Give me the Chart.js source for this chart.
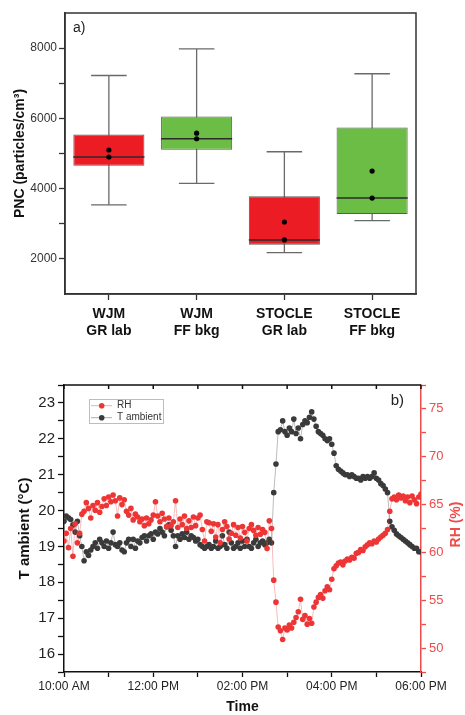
<!DOCTYPE html>
<html>
<head>
<meta charset="utf-8">
<script src="https://cdn.jsdelivr.net/npm/chart.js@4.4.1/dist/chart.umd.min.js"></script>
<style>
  html, body { margin: 0; padding: 0; background: #fff; }
  body { width: 465px; height: 715px; position: relative; overflow: hidden; }
  canvas { position: absolute; left: 0; }
  #boxChart { top: 0; }
  #timeChart { top: 345px; }
</style>
</head>
<body>
<canvas id="boxChart" width="465" height="345"></canvas>
<canvas id="timeChart" width="465" height="375"></canvas>
<script>
// --- panel a: PNC box plots ---
const groups = [["WJM", "GR lab"], ["WJM", "FF bkg"], ["STOCLE", "GR lab"], ["STOCLE", "FF bkg"]];
const pncMin = [3540, 4150, 2180, 3090];
const pncQ1 = [4650, 5110, 2400, 3280];
const pncMedian = [4900, 5420, 2540, 3730];
const pncQ3 = [5540, 6050, 3780, 5740];
const pncMax = [7220, 7980, 5050, 7270];
const pncMean = [5100, 5580, 3050, 4500];
const boxColors = ["#ec1c24", "#6cbd45", "#ec1c24", "#6cbd45"];
const pncTicks = [2000, 4000, 6000, 8000];

// --- panel b: T ambient and RH, one reading every 3 min from 10:00 AM ---
const timeLabels = ["10:00 AM", "12:00 PM", "02:00 PM", "04:00 PM", "06:00 PM"];
const stepMin = 3;
const tAmbient = [
  19.7, 19.85, 19.8, 19.75, 19.6, 19.4, 19.7, 19.3, 19.0, 18.6,
  18.85, 18.75, 18.9, 19.0, 19.1, 18.95, 19.2, 19.1, 19.0, 19.15,
  18.95, 19.1, 19.4, 19.05, 19.0, 19.1, 18.9, 18.85, 19.1, 19.2,
  19.0, 19.2, 18.95, 19.15, 19.1, 19.25, 19.3, 19.15, 19.3, 19.35,
  19.2, 19.4, 19.35, 19.5, 19.4, 19.3, 19.55, 19.6, 19.45, 19.3,
  19.0, 19.3, 19.2, 19.35, 19.25, 19.4, 19.2, 19.3, 19.25, 19.15,
  19.2, 19.05, 19.0, 18.95, 19.0, 19.05, 18.95, 19.0, 19.15, 18.95,
  19.0, 19.3, 19.05, 18.95, 19.4, 19.1, 18.95, 19.0, 19.1, 18.95,
  19.15, 19.0, 19.2, 19.0, 18.95, 19.1, 19.2, 19.0, 19.1, 19.15,
  19.05, 19.1, 19.2, 19.1, 20.5, 21.3, 22.2, 22.25, 22.5, 22.2,
  22.1, 22.3, 22.2, 22.55, 22.15, 22.3, 22.0, 22.4, 22.5, 22.45,
  22.6, 22.75, 22.55, 22.35, 22.2, 22.15, 22.1, 22.0, 21.95, 22.0,
  21.85, 21.6, 21.25, 21.15, 21.1, 21.05, 21.0, 21.0, 20.95, 21.0,
  20.95, 20.9, 20.9, 20.85, 20.95, 20.9, 20.95, 20.9, 20.95, 21.05,
  20.9, 20.85, 20.75, 20.7, 20.6, 20.5, 19.7, 19.55, 19.45, 19.35,
  19.3, 19.25, 19.2, 19.15, 19.1, 19.05, 19.0, 18.95, 18.95, 18.85, 18.85
];
const rh = [
  61.2, 62.0, 60.5, 62.5, 59.6, 63.0, 61.0, 62.0, 64.0, 64.3,
  65.2, 64.6, 63.6, 64.9, 64.4, 65.2, 64.2, 64.8, 65.6, 64.9,
  65.8, 65.3, 66.0, 65.4, 63.8, 65.7, 65.0, 65.5, 64.3, 63.9,
  64.6, 63.4, 64.0, 63.7, 63.2, 63.5, 62.8, 63.6, 63.0, 63.4,
  63.9, 65.3, 63.8, 63.2, 64.1, 63.5, 62.7, 63.6, 62.8, 63.2,
  65.4, 62.6, 63.5, 62.9, 63.8, 62.5, 63.3, 62.6, 63.7, 62.8,
  63.6, 63.9, 62.4, 61.2, 63.2, 63.1, 62.2, 63.0, 61.6, 62.9,
  61.0, 62.4, 63.2, 62.7, 61.4, 62.0, 62.9, 61.8, 62.6, 61.5,
  62.7, 62.1, 61.2, 62.5, 62.9, 62.3, 61.8, 62.6, 61.9, 62.4,
  62.1, 60.4, 63.3, 62.5, 57.1, 54.8, 52.2, 51.8, 50.9, 52.1,
  51.9, 52.4, 52.1, 52.7, 53.2, 53.8, 55.1, 53.0, 53.4, 52.5,
  53.1, 52.6, 54.3, 54.8, 55.3, 55.6, 55.2, 56.0, 56.4, 56.1,
  57.2, 58.3, 58.6, 58.9, 59.0, 58.7, 59.1, 59.3, 59.2, 59.5,
  59.4, 59.9, 60.0, 60.3, 60.2, 60.6, 60.8, 61.0, 60.9, 61.2,
  61.1, 61.4, 61.6, 61.8, 62.0, 62.4, 64.3, 65.6, 65.8, 65.5,
  66.0, 65.7, 65.9, 65.4, 65.8, 65.2, 65.9, 65.5, 65.1, 65.8, 66.1
];

const FONT = "'Liberation Sans', Arial, sans-serif";
Chart.defaults.font.family = FONT;
const RED = "#ee3535";
const AXIS_RED = "#f04a4a";

// whiskers, caps, median lines, frame and the "a)" tag
const boxParts = {
  id: "boxParts",
  beforeDatasetsDraw(chart) {
    const { ctx, scales: { x, y } } = chart;
    const bars = chart.getDatasetMeta(2).data;
    ctx.save();
    ctx.strokeStyle = "#6a6a6a";
    ctx.lineWidth = 1.3;
    pncMin.forEach((lo, i) => {
      const cx = x.getPixelForValue(i);
      const half = bars[i].width / 4;
      ctx.beginPath();
      ctx.moveTo(cx, y.getPixelForValue(lo));
      ctx.lineTo(cx, y.getPixelForValue(pncMax[i]));
      [lo, pncMax[i]].forEach(v => {
        const py = y.getPixelForValue(v);
        ctx.moveTo(cx - half, py);
        ctx.lineTo(cx + half, py);
      });
      ctx.stroke();
    });
    ctx.restore();
  },
  afterDatasetDraw(chart, args) {
    if (args.index !== 2) return;
    const { ctx, scales: { x, y } } = chart;
    const bars = chart.getDatasetMeta(2).data;
    ctx.save();
    ctx.strokeStyle = "#2b2b2b";
    ctx.lineWidth = 1.5;
    pncMedian.forEach((m, i) => {
      const cx = x.getPixelForValue(i);
      const half = bars[i].width / 2;
      const py = y.getPixelForValue(m);
      ctx.beginPath();
      ctx.moveTo(cx - half, py);
      ctx.lineTo(cx + half, py);
      ctx.stroke();
    });
    ctx.restore();
  },
  afterDraw(chart) {
    const { ctx, chartArea: a } = chart;
    ctx.save();
    ctx.strokeStyle = "#333";
    ctx.lineWidth = 1.5;
    ctx.strokeRect(a.left, a.top, a.right - a.left, a.bottom - a.top);
    ctx.fillStyle = "#222";
    ctx.font = "14px " + FONT;
    ctx.textBaseline = "middle";
    ctx.fillText("a)", a.left + 8, a.top + 15);
    ctx.restore();
  }
};

new Chart(document.getElementById("boxChart"), {
  type: "bar",
  data: {
    labels: groups,
    datasets: [
      { type: "line", label: "mean", data: pncMean, showLine: false, pointRadius: 2.6,
        pointBackgroundColor: "#000", pointBorderWidth: 0, order: 0 },
      { type: "line", label: "median", data: pncMedian, showLine: false, pointRadius: 2.6,
        pointBackgroundColor: "#000", pointBorderWidth: 0, order: 0 },
      { label: "PNC", data: pncQ1.map((q, i) => [q, pncQ3[i]]), backgroundColor: boxColors,
        borderColor: "#5a5a5a", borderWidth: 1, borderSkipped: false,
        barPercentage: 0.81, categoryPercentage: 1, order: 1 }
    ]
  },
  options: {
    responsive: false,
    animation: false,
    layout: { padding: { left: 0, right: 49, top: 13, bottom: 0 } },
    plugins: { legend: { display: false }, tooltip: { enabled: false } },
    scales: {
      x: {
        grid: { offset: false, drawOnChartArea: false, tickLength: 6, tickColor: "#333", tickWidth: 1.3 },
        border: { color: "#333", width: 1.5 },
        ticks: { color: "#111", font: { size: 14, weight: "bold" }, padding: 6, maxRotation: 0 },
        afterFit(s) { s.height = 51; }
      },
      y: {
        min: 1000, max: 9000,
        grid: {
          drawOnChartArea: false, tickLength: 6, tickWidth: 1.3,
          tickColor: c => (c.tick && (c.tick.value === 1000 || c.tick.value === 9000)) ? "rgba(0,0,0,0)" : "#333"
        },
        border: { color: "#333", width: 1.5 },
        ticks: {
          stepSize: 1000, autoSkip: false, padding: 2, color: "#333", font: { size: 12 },
          callback: v => pncTicks.includes(v) ? String(v) : ""
        },
        title: { display: true, text: "PNC (particles/cm³)", color: "#111",
          font: { size: 14, weight: "bold" }, padding: { top: 12, bottom: 0 } },
        afterFit(s) { s.width = 65; }
      }
    }
  },
  plugins: [boxParts]
});

// top frame line with inner ticks, inside legend, RH title and the "b)" tag
const timeExtras = {
  id: "timeExtras",
  afterDraw(chart) {
    const { ctx, chartArea: a, scales: { x, yRH } } = chart;
    ctx.save();
    ctx.strokeStyle = "#111";
    ctx.lineWidth = 1.5;
    ctx.beginPath();
    ctx.moveTo(a.left, a.top);
    ctx.lineTo(a.right, a.top);
    x.ticks.forEach(t => {
      const px = x.getPixelForValue(t.value);
      ctx.moveTo(px, a.top);
      ctx.lineTo(px, a.top + 4);
    });
    ctx.stroke();

    const x0 = a.left + 25, y0 = a.top + 14, w = 74, h = 24;
    ctx.strokeStyle = "#bdbdbd";
    ctx.lineWidth = 1;
    ctx.strokeRect(x0 + 0.5, y0 + 0.5, w, h);
    ctx.font = "10px " + FONT;
    ctx.textBaseline = "middle";
    chart.data.datasets.forEach((ds, i) => {
      const cy = y0 + 6.7 + i * 12;
      ctx.strokeStyle = ds.borderColor;
      ctx.beginPath();
      ctx.moveTo(x0 + 2, cy);
      ctx.lineTo(x0 + 23, cy);
      ctx.stroke();
      ctx.fillStyle = ds.pointBackgroundColor;
      ctx.beginPath();
      ctx.arc(x0 + 12.7, cy, 2.8, 0, Math.PI * 2);
      ctx.fill();
      ctx.fillStyle = "#333";
      ctx.fillText(ds.label, x0 + 28, cy);
    });

    ctx.fillStyle = "#222";
    ctx.font = "15px " + FONT;
    ctx.textAlign = "right";
    ctx.fillText("b)", a.right - 17, a.top + 16);

    // right axis title reads bottom-to-top, like the left one
    ctx.save();
    ctx.translate(yRH.right - 9, (a.top + a.bottom) / 2 - 4);
    ctx.rotate(-Math.PI / 2);
    ctx.textAlign = "center";
    ctx.fillStyle = AXIS_RED;
    ctx.font = "bold 14px " + FONT;
    ctx.fillText("RH (%)", 0, 0);
    ctx.restore();
    ctx.restore();
  }
};

new Chart(document.getElementById("timeChart"), {
  type: "line",
  data: {
    datasets: [
      { label: "RH", data: rh.map((v, i) => ({ x: i * stepMin, y: v })), yAxisID: "yRH",
        borderColor: "rgba(236,70,70,0.45)", borderWidth: 0.8, tension: 0,
        pointRadius: 2.8, pointBackgroundColor: RED, pointBorderWidth: 0, order: 0 },
      { label: "T ambient", data: tAmbient.map((v, i) => ({ x: i * stepMin, y: v })), yAxisID: "yT",
        borderColor: "rgba(70,70,70,0.45)", borderWidth: 0.8, tension: 0,
        pointRadius: 2.8, pointBackgroundColor: "#3a3a3a", pointBorderWidth: 0, order: 1 }
    ]
  },
  options: {
    responsive: false,
    animation: false,
    layout: { padding: { left: 0, right: 0, top: 40, bottom: 0 } },
    plugins: { legend: { display: false }, tooltip: { enabled: false } },
    scales: {
      x: {
        type: "linear", min: 0, max: 480,
        grid: { drawOnChartArea: false, tickLength: 5, tickColor: "#111", tickWidth: 1.3 },
        border: { color: "#111", width: 1.5 },
        ticks: {
          stepSize: 60, autoSkip: false, maxRotation: 0, padding: 2, color: "#222", font: { size: 12 },
          callback: v => v % 120 === 0 ? timeLabels[v / 120] : ""
        },
        title: { display: true, text: "Time", color: "#111", font: { size: 14, weight: "bold" },
          padding: { top: 0, bottom: 4 } },
        afterFit(s) { s.height = 48; }
      },
      yT: {
        position: "left", min: 15.5, max: 23.5,
        grid: { drawOnChartArea: false, tickLength: 6, tickColor: "#111", tickWidth: 1.3 },
        border: { color: "#111", width: 1.5 },
        ticks: {
          stepSize: 0.5, autoSkip: false, padding: 3, color: "#222", font: { size: 15 },
          callback: v => Number.isInteger(v) ? String(v) : ""
        },
        title: { display: true, text: "T ambient (°C)", color: "#111", font: { size: 15, weight: "bold" },
          padding: { top: 16, bottom: 0 } },
        afterFit(s) { s.width = 64; }
      },
      yRH: {
        position: "right", min: 47.5, max: 77.5,
        grid: { drawOnChartArea: false, tickLength: 5, tickColor: AXIS_RED, tickWidth: 1.3 },
        border: { color: AXIS_RED, width: 1.5 },
        ticks: {
          stepSize: 2.5, autoSkip: false, padding: 3, color: AXIS_RED, font: { size: 13 },
          callback: v => v % 5 === 0 ? String(v) : ""
        },
        afterFit(s) { s.width = 44; }
      }
    }
  },
  plugins: [timeExtras]
});
</script>
</body>
</html>
